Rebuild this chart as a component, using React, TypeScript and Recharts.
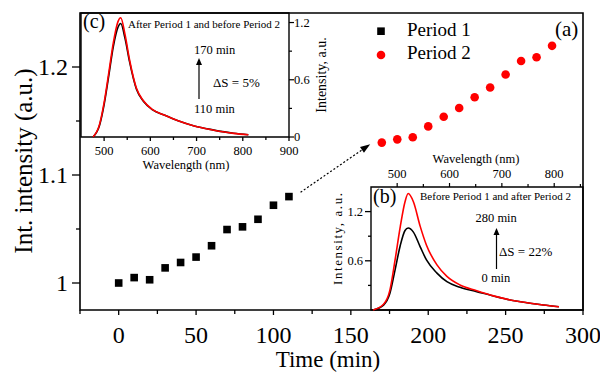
import React from "react";
import {
  ScatterChart,
  Scatter,
  LineChart,
  Line,
  XAxis,
  YAxis,
  ReferenceArea,
  ReferenceLine,
  Legend,
} from "recharts";

const FONT = '"Liberation Serif", "Times New Roman", Times, serif';
const RED = "#ff0000";

// (a) integrated intensity vs time
const period1Time = [0, 10, 20, 30, 40, 50, 60, 70, 80, 90, 100, 110];
const period1Int = [1.0, 1.005, 1.003, 1.014, 1.019, 1.024, 1.0345, 1.0495, 1.052, 1.059, 1.072, 1.08];
const period2Time = [170, 180, 190, 200, 210, 220, 230, 240, 250, 260, 270, 280];
const period2Int = [1.13, 1.133, 1.135, 1.145, 1.154, 1.162, 1.172, 1.181, 1.193, 1.2055, 1.209, 1.2196];
const timeTicks = [-25, 0, 25, 50, 75, 100, 125, 150, 175, 200, 225, 250, 275, 300];
const timeLabels = [0, 50, 100, 150, 200, 250, 300];
const intTicks = [1, 1.05, 1.1, 1.15, 1.2];
const intLabels = [1, 1.1, 1.2];
const arrowFrom = { x: 117.5, y: 1.084 };
const arrowTo = { x: 162.5, y: 1.1285 };

// (c) spectra, 110 min and 170 min
const wlC = [476, 490, 500, 510, 520, 530, 536, 545, 555, 570, 585, 605, 630, 660, 695, 735, 780, 812];
const spec110 = [0, 0.12, 0.34, 0.64, 0.95, 1.15, 1.19, 1.04, 0.79, 0.5, 0.375, 0.285, 0.23, 0.17, 0.116, 0.075, 0.039, 0.024];
const spec170 = [0, 0.13, 0.36, 0.67, 0.99, 1.21, 1.25, 1.08, 0.81, 0.51, 0.38, 0.287, 0.23, 0.17, 0.115, 0.074, 0.038, 0.023];
const wlTicksC = [500, 550, 600, 650, 700, 750, 800, 850, 900];
const wlLabelsC = [500, 600, 700, 800, 900];
const intTicksC = [0, 0.3, 0.6, 0.9, 1.2];
const intLabelsC = [0, 0.6, 1.2];

// (b) spectra, 0 min and 280 min
const wlB = [454, 474, 486, 496, 506, 515, 521, 531, 544, 556, 576, 595, 620, 652, 684, 716, 748, 779, 809];
const spec0 = [0, 0.06, 0.2, 0.49, 0.79, 0.97, 1.0, 0.95, 0.77, 0.61, 0.45, 0.345, 0.277, 0.224, 0.17, 0.122, 0.089, 0.061, 0.04];
const spec280 = [0, 0.07, 0.24, 0.61, 1.02, 1.32, 1.42, 1.32, 1.02, 0.79, 0.55, 0.41, 0.305, 0.235, 0.172, 0.123, 0.089, 0.061, 0.04];
const wlTicksB = [500, 550, 600, 650, 700, 750, 800, 850];
const wlLabelsB = [500, 600, 700, 800];
const intTicksB = [0.3, 0.6, 0.9, 1.2];
const intLabelsB = [0.6, 1.2];

const period1 = period1Time.map((t, i) => ({ t, v: period1Int[i] }));
const period2 = period2Time.map((t, i) => ({ t, v: period2Int[i] }));
const dataC = wlC.map((wl, i) => ({ wl, a: spec110[i], b: spec170[i] }));
const dataB = wlB.map((wl, i) => ({ wl, a: spec0[i], b: spec280[i] }));

type Side = "bottom" | "top" | "left" | "right";
const has = (arr: number[], v: number) => arr.some((a) => Math.abs(a - v) < 1e-6);
const fmt = (v: number) => String(Math.round(v * 100) / 100);

// tick line + label drawn by hand so minor ticks can be shorter and unlabeled
function makeTick(side: Side, labels: number[], len: number, minorLen: number, gap: number, size: number) {
  return (p: any) => {
    const { x, y, payload } = p;
    const v = payload.value;
    const major = has(labels, v);
    const L = major ? len : minorLen;
    let line: React.ReactNode = null;
    let text: React.ReactNode = null;
    const tp = { fill: "#000", fontSize: size, fontFamily: FONT };
    if (side === "bottom") {
      line = <line x1={x} y1={y} x2={x} y2={y + L} stroke="#000" strokeWidth={1.3} />;
      text = <text {...tp} x={x} y={y + gap} dy="0.71em" textAnchor="middle">{fmt(v)}</text>;
    } else if (side === "top") {
      line = <line x1={x} y1={y} x2={x} y2={y - L} stroke="#000" strokeWidth={1.2} />;
      text = <text {...tp} x={x} y={y - gap} textAnchor="middle">{fmt(v)}</text>;
    } else if (side === "left") {
      line = <line x1={x} y1={y} x2={x - L} y2={y} stroke="#000" strokeWidth={1.3} />;
      text = <text {...tp} x={x - gap} y={y} dy="0.35em" textAnchor="end">{fmt(v)}</text>;
    } else {
      line = <line x1={x} y1={y} x2={x + L} y2={y} stroke="#000" strokeWidth={1.2} />;
      text = <text {...tp} x={x + gap} y={y} dy="0.35em" textAnchor="start">{fmt(v)}</text>;
    }
    return (
      <g>
        {line}
        {major && text}
      </g>
    );
  };
}

const mainXTick = makeTick("bottom", timeLabels, 5, 4, 16, 24);
const mainYTick = makeTick("left", intLabels, 8, 4, 12, 24);
const cXTick = makeTick("bottom", wlLabelsC, 4, 3, 9.5, 12.5);
const cYTick = makeTick("right", intLabelsC, 5, 3, 5, 12.5);
const bXTick = makeTick("top", wlLabelsB, 4, 3, 9, 12.5);
const bYTick = makeTick("left", intLabelsB, 6, 3, 8, 12.5);

const Square = (p: any) => <rect x={p.cx - 3.8} y={p.cy - 3.8} width={7.6} height={7.6} fill="#000" />;
const Dot = (p: any) => <circle cx={p.cx} cy={p.cy} r={4.3} fill={RED} />;

const DottedArrow = (p: any) => {
  const { x1, y1, x2, y2 } = p;
  const ang = Math.atan2(y2 - y1, x2 - x1);
  const hl = 10;
  const hw = 3.5;
  const bx = x2 - hl * Math.cos(ang);
  const by = y2 - hl * Math.sin(ang);
  const nx = -Math.sin(ang);
  const ny = Math.cos(ang);
  return (
    <g>
      <line x1={x1} y1={y1} x2={bx} y2={by} stroke="#000" strokeWidth={1.2} strokeDasharray="2 2" />
      <polygon
        points={`${x2},${y2} ${bx + nx * hw},${by + ny * hw} ${bx - nx * hw},${by - ny * hw}`}
        fill="#000"
      />
    </g>
  );
};

const UpArrow = ({ x, from, to }: { x: number; from: number; to: number }) => (
  <g>
    <line x1={x} y1={from} x2={x} y2={to + 6} stroke="#000" strokeWidth={1.2} />
    <polygon points={`${x - 3},${to + 7} ${x + 3},${to + 7} ${x},${to}`} fill="#000" />
  </g>
);

const renderLegend = (props: any) => (
  <div style={{ fontFamily: FONT, fontSize: 19, color: "#000" }}>
    {(props.payload || []).map((e: any, i: number) => (
      <div key={i} style={{ display: "flex", alignItems: "center", height: 23.5 }}>
        <svg width={18} height={23.5} style={{ flex: "none" }}>
          {i === 0 ? (
            <rect x={5.2} y={9.4} width={7.6} height={7.6} fill="#000" />
          ) : (
            <circle cx={9} cy={13} r={4.3} fill={RED} />
          )}
        </svg>
        <span style={{ marginLeft: 17, whiteSpace: "nowrap" }}>{e.value}</span>
      </div>
    ))}
  </div>
);

const txt = { fill: "#000", fontFamily: FONT };

export default function App() {
  return (
    <div style={{ position: "relative", width: 600, height: 374, overflow: "hidden", background: "#fff", fontFamily: FONT }}>
      <style>{"body{margin:0}"}</style>

      {/* (a) main panel */}
      <div style={{ position: "absolute", left: 0, top: 0 }}>
        <ScatterChart width={600} height={374} margin={{ top: 13, right: 17, bottom: 0, left: 0 }}>
          <XAxis
            type="number"
            dataKey="t"
            domain={[-25, 300]}
            ticks={timeTicks}
            interval={0}
            height={64}
            axisLine={false}
            tickLine={false}
            tickSize={0}
            tickMargin={0}
            tick={mainXTick}
          />
          <YAxis
            type="number"
            dataKey="v"
            domain={[0.975, 1.25]}
            ticks={intTicks}
            interval={0}
            width={80}
            axisLine={false}
            tickLine={false}
            tickSize={0}
            tickMargin={0}
            tick={mainYTick}
          />
          <ReferenceArea x1={-25} x2={300} y1={0.975} y2={1.25} fill="none" stroke="#000" strokeWidth={1.6} />
          <ReferenceLine segment={[arrowFrom, arrowTo]} shape={DottedArrow} />
          <Scatter name="Period 1" data={period1} shape={Square} fill="#000" isAnimationActive={false} />
          <Scatter name="Period 2" data={period2} shape={Dot} fill={RED} isAnimationActive={false} />
          <Legend
            layout="vertical"
            align="center"
            verticalAlign="middle"
            content={renderLegend}
            wrapperStyle={{ left: 372, top: 18, width: 150 }}
          />
          <text {...txt} x={555} y={36} fontSize={21}>(a)</text>
          <text {...txt} x={328} y={367} fontSize={23} textAnchor="middle">Time (min)</text>
          <text {...txt} x={31.5} y={161} fontSize={25} textAnchor="middle" transform="rotate(-90 31.5 161)">
            Int. intensity (a.u.)
          </text>
        </ScatterChart>
      </div>

      {/* (c) inset, top left */}
      <div style={{ position: "absolute", left: 0, top: 0 }}>
        <LineChart width={600} height={374} data={dataC} margin={{ top: 13, right: 271, bottom: 197, left: 81 }}>
          <XAxis
            type="number"
            dataKey="wl"
            domain={[450, 900]}
            ticks={wlTicksC}
            interval={0}
            height={40}
            axisLine={false}
            tickLine={false}
            tickSize={0}
            tickMargin={0}
            tick={cXTick}
          />
          <YAxis
            type="number"
            orientation="right"
            domain={[0, 1.3]}
            ticks={intTicksC}
            interval={0}
            width={40}
            axisLine={false}
            tickLine={false}
            tickSize={0}
            tickMargin={0}
            tick={cYTick}
          />
          <ReferenceArea x1={450} x2={900} y1={0} y2={1.3} fill="none" stroke="#000" strokeWidth={1.4} />
          <Line type="monotone" dataKey="a" stroke="#000" strokeWidth={1.6} dot={false} isAnimationActive={false} />
          <Line type="monotone" dataKey="b" stroke={RED} strokeWidth={1.6} dot={false} isAnimationActive={false} />
          <text {...txt} x={83} y={28} fontSize={20}>(c)</text>
          <text {...txt} x={128} y={27.5} fontSize={11}>After Period 1 and before Period 2</text>
          <text {...txt} x={194} y={54} fontSize={12.5}>170 min</text>
          <text {...txt} x={213} y={87} fontSize={13}>ΔS = 5%</text>
          <text {...txt} x={194} y={113} fontSize={12.5}>110 min</text>
          <UpArrow x={199} from={99} to={58} />
          <text {...txt} x={186} y={169} fontSize={12.5} textAnchor="middle">Wavelength (nm)</text>
          <text {...txt} x={326} y={75} fontSize={14} textAnchor="middle" transform="rotate(-90 326 75)">
            Intensity, a.u.
          </text>
        </LineChart>
      </div>

      {/* (b) inset, bottom right */}
      <div style={{ position: "absolute", left: 0, top: 0 }}>
        <LineChart width={600} height={374} data={dataB} margin={{ top: 147, right: 17, bottom: 64, left: 331 }}>
          <XAxis
            type="number"
            dataKey="wl"
            orientation="top"
            domain={[450, 855]}
            ticks={wlTicksB}
            interval={0}
            height={40}
            axisLine={false}
            tickLine={false}
            tickSize={0}
            tickMargin={0}
            tick={bXTick}
          />
          <YAxis
            type="number"
            domain={[0, 1.5]}
            ticks={intTicksB}
            interval={0}
            width={40}
            axisLine={false}
            tickLine={false}
            tickSize={0}
            tickMargin={0}
            tick={bYTick}
          />
          <ReferenceArea x1={450} x2={855} y1={0} y2={1.5} fill="none" stroke="#000" strokeWidth={1.4} />
          <Line type="monotone" dataKey="a" stroke="#000" strokeWidth={1.6} dot={false} isAnimationActive={false} />
          <Line type="monotone" dataKey="b" stroke={RED} strokeWidth={1.6} dot={false} isAnimationActive={false} />
          <text {...txt} x={373} y={203} fontSize={20}>(b)</text>
          <text {...txt} x={420} y={200} fontSize={11}>Before Period 1 and after Period 2</text>
          <text {...txt} x={475.5} y={221.5} fontSize={12.5}>280 min</text>
          <text {...txt} x={499} y={256} fontSize={13}>ΔS = 22%</text>
          <text {...txt} x={481.5} y={281.5} fontSize={12.5}>0 min</text>
          <UpArrow x={496.5} from={269} to={228} />
          <text {...txt} x={476} y={162.5} fontSize={12.5} textAnchor="middle">Wavelength (nm)</text>
          <text
            {...txt}
            x={341.5}
            y={239}
            fontSize={13}
            textAnchor="middle"
            textLength={92}
            lengthAdjust="spacing"
            transform="rotate(-90 341.5 239)"
          >
            Intensity, a.u.
          </text>
        </LineChart>
      </div>
    </div>
  );
}
